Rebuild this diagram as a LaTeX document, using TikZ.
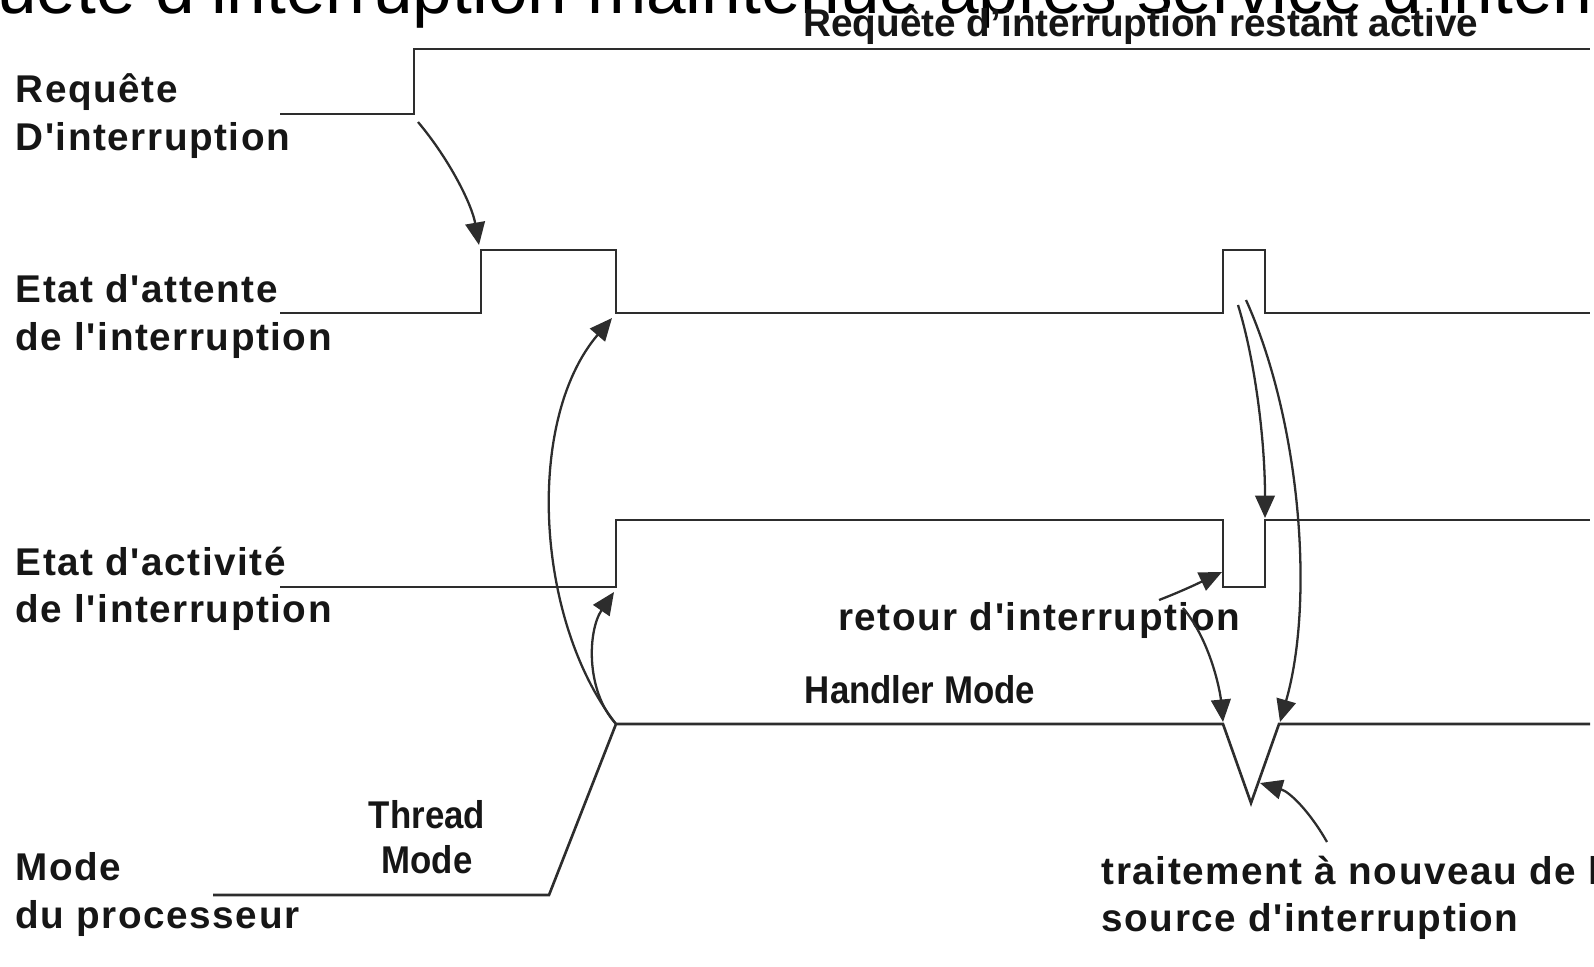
\documentclass[tikz,border=0pt]{standalone}
\usepackage{fontspec}
\setmainfont{Liberation Sans}
\newfontfamily\labfont[LetterSpace=4]{Liberation Sans}
\newfontfamily\narrowfont[FakeStretch=0.9]{Liberation Sans}
\usepackage{xcolor}
\usetikzlibrary{arrows.meta}
\definecolor{sigGray}{RGB}{45,45,45}
\definecolor{txtDark}{RGB}{22,22,22}

\tikzset{
  sig/.style={sigGray, line width=0.75pt},
  cause/.style={sigGray, line width=0.65pt, -{Triangle[length=6.4pt,width=5.6pt]}},
  lab/.style={text=txtDark, font=\labfont\bfseries\fontsize{11pt}{13.6pt}\selectfont, inner sep=0pt, align=left},
  plainlab/.style={text=txtDark, font=\bfseries\fontsize{11pt}{13.6pt}\selectfont, inner sep=0pt},
  narrowlab/.style={text=txtDark, font=\narrowfont\bfseries\fontsize{11pt}{12.8pt}\selectfont, inner sep=0pt, align=center},
}

\begin{document}
\begin{tikzpicture}[x=0.01cm, y=-0.01cm]
\useasboundingbox (0,0) rectangle (1594,966);

% heading, runs off the top edge
\node[anchor=base west, inner sep=0pt, text=black, font=\fontsize{20.25pt}{24pt}\selectfont] (title) at (-134,13)
  {Requête d'interruption maintenue après service d'interruption};

% signal names on the left
\node[lab, anchor=north west] (reqLab)  at (15,73)  {Requête\\D'interruption};
\node[lab, anchor=north west] (pendLab) at (15,274) {Etat d'attente\\de l'interruption};
\node[lab, anchor=north west] (actLab)  at (15,546) {Etat d'activité\\de l'interruption};
\node[lab, anchor=north west] (modeLab) at (15,852) {Mode\\du processeur};

% waveforms
\draw[sig] (280,114) -- (414,114) -- (414,49) -- (1590,49);
\draw[sig] (280,313) -- (481,313) -- (481,250) -- (616,250) -- (616,313)
  -- (1223,313) -- (1223,250) -- (1265,250) -- (1265,313) -- (1590,313);
\draw[sig] (280,587) -- (616,587) -- (616,520) -- (1223,520) -- (1223,587)
  -- (1265,587) -- (1265,520) -- (1590,520);
\draw[sig] (213,895) -- (549,895) -- (616,724) -- (1223,724) -- (1251,803)
  -- (1279,724) -- (1590,724);

% labels along the waveforms
\node[plainlab, anchor=base] (active) at (1141,36) {Requête d'interruption restant active};
\node[narrowlab, anchor=base] (handler) at (920,703) {Handler Mode};
\node[narrowlab, anchor=north] (thread) at (427,800) {Thread\\Mode};
\node[lab, anchor=base] (retour) at (1039,630) {retour d'interruption};
\node[lab, anchor=north west] (again) at (1101,855) {traitement à nouveau de la\\source d'interruption};

% arrow ends
\coordinate (reqStep)  at (418,122);
\coordinate (pendOn)   at (479,245);
\coordinate (modeUp)   at (616,724);
\coordinate (pendOff)  at (612,318);
\coordinate (actOn)    at (614,592);
\coordinate (pendEnd)  at (1238,305);
\coordinate (pendEnd2) at (1246,300);
\coordinate (actBack)  at (1265,518);
\coordinate (vLeft)    at (1223,722);
\coordinate (vRight)   at (1280,722);
\coordinate (actDip)   at (1222,572);
\coordinate (vSide)    at (1260,783);
\coordinate (retFrom)  at (1159,600);
\coordinate (retFrom2) at (1183,608);
\coordinate (againTo)  at (1327,842);

% cause and effect
\draw[cause] (reqStep) .. controls (450,160) and (472,205) .. (pendOn);
\draw[cause] (modeUp) .. controls (535,620) and (525,420) .. (pendOff);
\draw[cause] (modeUp) .. controls (585,690) and (588,630) .. (actOn);
\draw[cause] (pendEnd) .. controls (1255,360) and (1265,440) .. (actBack);
\draw[cause] (pendEnd2) .. controls (1300,420) and (1315,600) .. (vRight);
\draw[cause] (retFrom) .. controls (1185,590) and (1205,580) .. (actDip);
\draw[cause] (retFrom2) .. controls (1210,640) and (1220,690) .. (vLeft);
\draw[cause] (againTo) .. controls (1310,812) and (1290,792) .. (vSide);
\end{tikzpicture}
\end{document}
